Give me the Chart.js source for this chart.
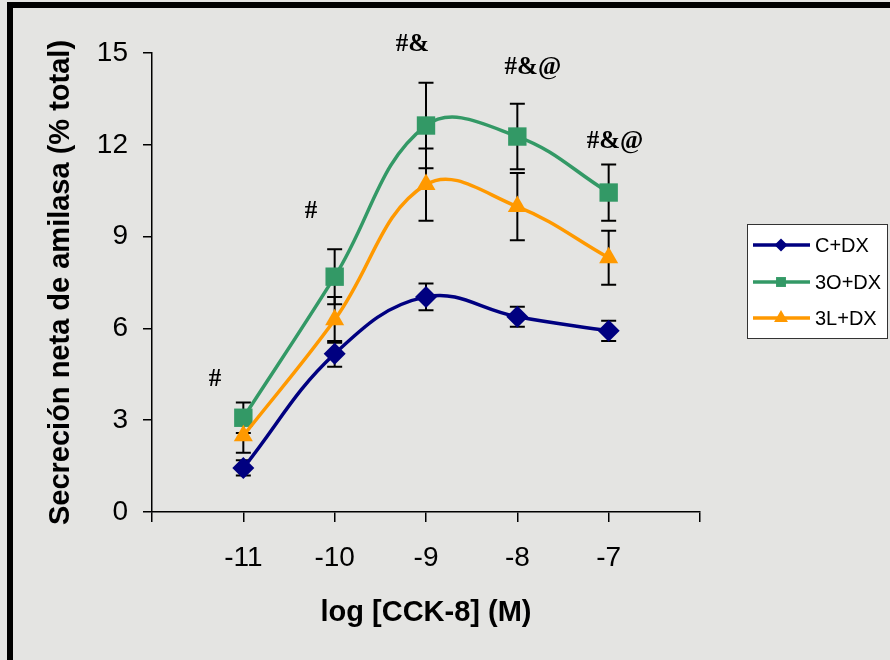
<!DOCTYPE html>
<html>
<head>
<meta charset="utf-8">
<script src="https://cdn.jsdelivr.net/npm/chart.js@4.4.1/dist/chart.umd.min.js"></script>
<style>
  html, body { margin: 0; padding: 0; background: #e4e4e2; }
  #wrap { position: relative; width: 890px; height: 660px; }
</style>
</head>
<body>
<div id="wrap"><canvas id="c" width="890" height="660"></canvas></div>
<script>
// ---- data ----
const xValues = [-11, -10, -9, -8, -7];
const seriesLabels = ['C+DX', '3O+DX', '3L+DX'];
const cDx = [1.44, 5.17, 7.03, 6.38, 5.92];
const cDxErr = [0.25, 0.42, 0.44, 0.33, 0.33];
const oDx = [3.08, 7.69, 12.63, 12.27, 10.44];
const oDxErr = [0.5, 0.9, 1.4, 1.07, 0.92];
const lDx = [2.49, 6.28, 10.7, 9.98, 8.31];
const lDxErr = [0.55, 0.75, 1.18, 1.1, 0.88];
const yTickValues = [0, 3, 6, 9, 12, 15];
const xTickLabels = ['-11', '-10', '-9', '-8', '-7'];
const annotTexts = ['#', '#', '#&', '#&@', '#&@'];
const annotX = [-11.31, -10.26, -9.15, -7.83, -6.93];
const annotY = [4.32, 9.82, 15.28, 14.53, 12.1];
const xTitle = 'log [CCK-8] (M)';
const yTitle = 'Secreción neta de amilasa (% total)';

const colors = ['#000080', '#339966', '#FF9900'];
const pointStyles = ['rectRot', 'rect', 'triangle'];
const pointRadii = [11, 13, 11];
const seriesValues = [cDx, oDx, lDx];
const seriesErrors = [cDxErr, oDxErr, lDxErr];

function toPoints(vals) { return xValues.map((x, i) => ({ x: x, y: vals[i] })); }

const datasets = seriesLabels.map((lab, i) => ({
  label: lab,
  data: toPoints(seriesValues[i]),
  errors: seriesErrors[i],
  borderColor: colors[i],
  backgroundColor: colors[i],
  borderWidth: 3.5,
  pointStyle: pointStyles[i],
  pointRadius: pointRadii[i],
  pointBorderWidth: 0,
  pointBackgroundColor: colors[i],
  tension: 0.4,
  order: 2 - i
}));

const framePlugin = {
  id: 'frame',
  beforeDraw(chart) {
    const ctx = chart.ctx;
    ctx.save();
    ctx.fillStyle = '#e4e4e2';
    ctx.fillRect(0, 0, chart.width, chart.height);
    ctx.fillStyle = '#000';
    ctx.fillRect(7, 2, chart.width - 7, 6);
    ctx.fillRect(7, 2, 6, chart.height - 2);
    ctx.restore();
  }
};

const errorBarPlugin = {
  id: 'errorBars',
  beforeDatasetsDraw(chart) {
    const ctx = chart.ctx;
    const xs = chart.scales.x, ys = chart.scales.y;
    ctx.save();
    ctx.strokeStyle = '#000';
    ctx.lineWidth = 2;
    chart.data.datasets.forEach(ds => {
      ds.data.forEach((p, j) => {
        const e = ds.errors[j];
        const px = xs.getPixelForValue(p.x);
        const y1 = ys.getPixelForValue(p.y + e);
        const y2 = ys.getPixelForValue(p.y - e);
        ctx.beginPath();
        ctx.moveTo(px, y1); ctx.lineTo(px, y2);
        ctx.moveTo(px - 7.5, y1); ctx.lineTo(px + 7.5, y1);
        ctx.moveTo(px - 7.5, y2); ctx.lineTo(px + 7.5, y2);
        ctx.stroke();
      });
    });
    ctx.restore();
  }
};

function drawMarker(ctx, style, x, y, r, color) {
  ctx.fillStyle = color;
  ctx.beginPath();
  if (style === 'rectRot') {
    ctx.moveTo(x - r, y); ctx.lineTo(x, y - r); ctx.lineTo(x + r, y); ctx.lineTo(x, y + r);
  } else if (style === 'rect') {
    const s = r * Math.SQRT1_2;
    ctx.rect(x - s, y - s, 2 * s, 2 * s);
  } else {
    const h = r * Math.sqrt(3) / 2;
    ctx.moveTo(x, y - r); ctx.lineTo(x + h, y + r / 2); ctx.lineTo(x - h, y + r / 2);
  }
  ctx.closePath();
  ctx.fill();
}

const annotLegendPlugin = {
  id: 'annotLegend',
  afterDraw(chart) {
    const ctx = chart.ctx;
    const xs = chart.scales.x, ys = chart.scales.y;
    ctx.save();
    // annotations
    ctx.fillStyle = '#000';
    ctx.font = 'bold 25px "Liberation Serif", "Times New Roman", serif';
    ctx.textAlign = 'center';
    ctx.textBaseline = 'middle';
    annotTexts.forEach((t, i) => {
      ctx.fillText(t, xs.getPixelForValue(annotX[i]), ys.getPixelForValue(annotY[i]));
    });
    // legend
    const bx = 747.5, by = 224.5, bw = 140, bh = 114;
    ctx.fillStyle = '#ffffff';
    ctx.fillRect(bx, by, bw, bh);
    ctx.strokeStyle = '#333';
    ctx.lineWidth = 1;
    ctx.strokeRect(bx, by, bw, bh);
    ctx.font = '20px "Liberation Sans", Arial, sans-serif';
    ctx.textAlign = 'left';
    const rows = [245, 282, 318];
    const legR = [6.5, 7, 8];
    chart.data.datasets.forEach((ds, i) => {
      const y = rows[i];
      ctx.strokeStyle = colors[i];
      ctx.lineWidth = 3.5;
      ctx.beginPath();
      ctx.moveTo(753, y); ctx.lineTo(810, y);
      ctx.stroke();
      drawMarker(ctx, pointStyles[i], 781, y, legR[i], colors[i]);
      ctx.fillStyle = '#000';
      ctx.fillText(ds.label, 815, y + 1);
    });
    ctx.restore();
  }
};

new Chart(document.getElementById('c'), {
  type: 'line',
  data: { datasets: datasets },
  plugins: [framePlugin, errorBarPlugin, annotLegendPlugin],
  options: {
    responsive: false,
    animation: false,
    devicePixelRatio: 1,
    layout: { padding: { left: 0, top: 53, right: 190, bottom: 0 } },
    plugins: { legend: { display: false }, tooltip: { enabled: false } },
    scales: {
      x: {
        type: 'linear',
        min: -12, max: -6,
        afterFit(s) { s.height = 148; },
        afterBuildTicks(s) { s.ticks = [-12, -11, -10, -9, -8, -7, -6].map(v => ({ value: v })); },
        ticks: {
          color: '#000',
          font: { size: 28, family: '"Liberation Sans", Arial, sans-serif' },
          padding: 19,
          maxRotation: 0,
          autoSkip: false,
          callback(v) { const k = xValues.indexOf(v); return k >= 0 ? xTickLabels[k] : ''; }
        },
        grid: { drawOnChartArea: false, drawTicks: true, tickLength: 10, color: '#000', lineWidth: 1.5 },
        border: { display: true, color: '#000', width: 1.5 },
        title: {
          display: true, text: xTitle, color: '#000',
          font: { size: 29, weight: 'bold', family: '"Liberation Sans", Arial, sans-serif' },
          padding: { top: 0, bottom: 30 }
        }
      },
      y: {
        type: 'linear',
        min: 0, max: 15,
        afterFit(s) { s.width = 152; },
        afterBuildTicks(s) { s.ticks = yTickValues.map(v => ({ value: v })); },
        ticks: {
          color: '#000',
          font: { size: 28, family: '"Liberation Sans", Arial, sans-serif' },
          padding: 15
        },
        grid: { drawOnChartArea: false, drawTicks: true, tickLength: 9, color: '#000', lineWidth: 1.5 },
        border: { display: true, color: '#000', width: 1.5 },
        title: {
          display: true, text: yTitle, color: '#000',
          font: { size: 29, weight: 'bold', family: '"Liberation Sans", Arial, sans-serif' },
          padding: { top: 44, bottom: 0 }
        }
      }
    }
  }
});
</script>
</body>
</html>
